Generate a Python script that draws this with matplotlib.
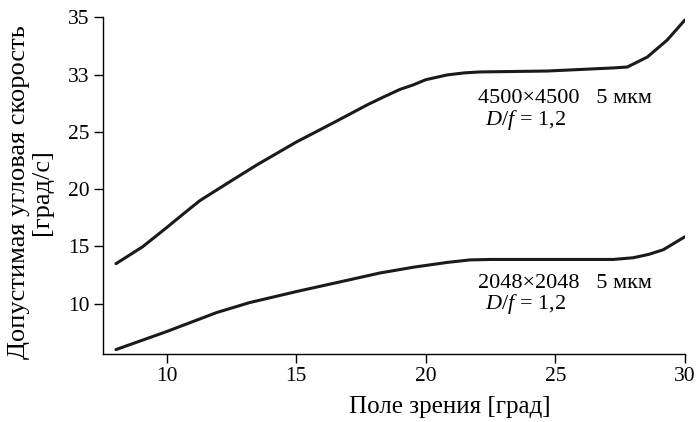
import matplotlib.pyplot as plt

plt.rcParams['font.family'] = 'Liberation Serif'
plt.rcParams['mathtext.fontset'] = 'custom'
plt.rcParams['mathtext.rm'] = 'Liberation Serif'
plt.rcParams['mathtext.it'] = 'Liberation Serif:italic'

# поле зрения [град] и допустимая угловая скорость
fov_4500 = [8.05, 9.08, 10.0, 10.63, 11.29, 12.56, 13.49, 14.49, 15.0, 16.43,
            17.74, 18.24, 19.0, 19.52, 20.0, 20.83, 21.5, 22.1, 24.69, 27.24,
            27.78, 28.55, 29.32, 30.0]
rate_4500 = [13.49, 14.97, 16.63, 17.8, 19.0, 20.81, 22.12, 23.43, 24.1,
             25.78, 27.35, 27.9, 28.7, 29.1, 29.55, 29.97, 30.15, 30.23, 30.31,
             30.58, 30.66, 31.53, 33.02, 34.76]

fov_2048 = [8.05, 10.0, 11.93, 13.2, 15.0, 17.07, 18.24, 19.52, 20.83, 21.71,
            22.5, 27.24, 28.01, 28.6, 29.17, 30.0]
rate_2048 = [5.99, 7.56, 9.22, 10.09, 11.05, 12.09, 12.68, 13.18, 13.6, 13.82,
             13.86, 13.86, 14.01, 14.3, 14.71, 15.84]

xticks = [10, 15, 20, 25, 30]
yticks = [10, 15, 20, 25, 30, 35]
ytick_labels = ['10', '15', '20', '25', '33', '35']

fig = plt.figure(figsize=(6.96, 4.22), dpi=100)
ax = fig.add_axes([0.148, 0.161, 0.836, 0.798])

ax.plot(fov_4500, rate_4500, color='#1a1a1a', lw=2.2, solid_capstyle='round',
        solid_joinstyle='round')
ax.plot(fov_2048, rate_2048, color='#1a1a1a', lw=2.2, solid_capstyle='round',
        solid_joinstyle='round')

ax.text(22.02, 27.52, '4500×4500   5 мкм', fontsize=16)
ax.text(22.3, 25.6, '$D/f$ = 1,2', fontsize=16)
ax.text(22.02, 11.39, '2048×2048   5 мкм', fontsize=16)
ax.text(22.3, 9.55, '$D/f$ = 1,2', fontsize=16)

ax.set_xlim(7.55, 30)
ax.set_ylim(5.6, 35)
ax.set_xticks(xticks)
ax.set_yticks(yticks)
ax.set_yticklabels(ytick_labels)
ax.tick_params(labelsize=15.5, length=6.5, width=1, direction='out', pad=3)
for s in ['top', 'right']:
    ax.spines[s].set_visible(False)
for s in ['left', 'bottom']:
    ax.spines[s].set_linewidth(1)

ax.set_xlabel('Поле зрения [град]', fontsize=18)
ax.xaxis.set_label_coords(0.596, -0.125)
ax.set_ylabel('Допустимая угловая скорость\n[град/с]', fontsize=19,
              linespacing=1.05)
ax.yaxis.set_label_coords(-0.086, 0.48)

fig.savefig('out.png', dpi=100)
